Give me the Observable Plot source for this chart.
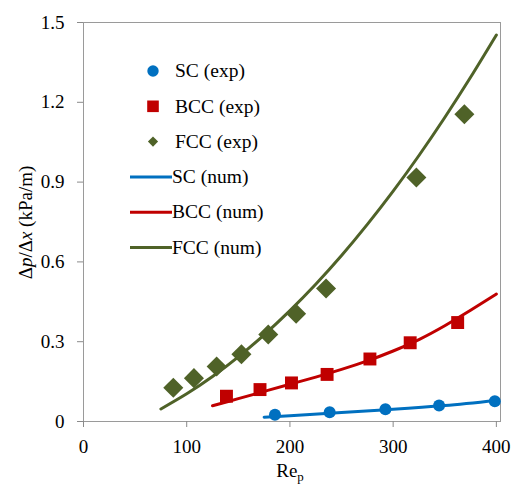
<!DOCTYPE html>
<html>
<head>
<meta charset="utf-8">
<script src="https://cdn.jsdelivr.net/npm/d3@7"></script>
<script src="https://cdn.jsdelivr.net/npm/@observablehq/plot@0.6"></script>
<style>
  html, body { margin: 0; padding: 0; background: #fff; }
  #wrap { position: relative; width: 516px; height: 492px; }
  #chart { position: absolute; left: 0; top: 0; width: 516px; height: 492px; }
  #titles { position: absolute; left: 0; top: 0; pointer-events: none; }
</style>
</head>
<body>
<div id="wrap">
  <div id="chart"></div>
  <!-- axis titles: set at 22px and scaled down to 19px -->
  <svg id="titles" width="516" height="492" font-family="Liberation Serif" font-size="22" fill="#000">
    <text transform="translate(32,222.5) rotate(-90) scale(0.8636)" text-anchor="middle">Δ<tspan font-style="italic">p</tspan>/Δ<tspan font-style="italic">x</tspan> (kPa/m)</text>
    <text transform="translate(290,477) scale(0.8636)" text-anchor="middle">Re<tspan font-size="15" dy="4.6">p</tspan></text>
  </svg>
</div>
<script>
// Particle Reynolds number vs. pressure gradient for SC, BCC and FCC packings

// Experimental points
const scExpRe  = [185.5, 238.5, 292.5, 344.5, 398.5];
const scExpDp  = [0.025, 0.035, 0.046, 0.060, 0.076];
const bccExpRe = [138.5, 171, 201.5, 236, 277.5, 316.5, 362.5];
const bccExpDp = [0.095, 0.120, 0.145, 0.177, 0.235, 0.296, 0.372];
const fccExpRe = [87, 107, 129, 153, 179, 206, 235, 322.5, 369];
const fccExpDp = [0.127, 0.163, 0.207, 0.253, 0.327, 0.405, 0.500, 0.917, 1.155];

// Numerical curves
const scNumRe  = [175, 200, 250, 300, 350, 400];
const scNumDp  = [0.016, 0.022, 0.034, 0.046, 0.060, 0.079];
const bccNumRe = [125, 150, 175, 200, 225, 250, 275, 300, 325, 350, 375, 400];
const bccNumDp = [0.059, 0.086, 0.113, 0.140, 0.167, 0.196, 0.228, 0.265, 0.308, 0.360, 0.418, 0.479];
const fccNumRe = [75, 100, 125, 150, 175, 200, 225, 250, 275, 300, 325, 350, 375, 400];
const fccNumDp = [0.047, 0.104, 0.169, 0.243, 0.326, 0.417, 0.516, 0.624, 0.741, 0.866, 1.000, 1.143, 1.294, 1.453];

// Axis ticks
const xTicks = [0, 100, 200, 300, 400];
const yTicks = [0, 0.3, 0.6, 0.9, 1.2, 1.5];

// Legend
const legendLabels = ["SC (exp)", "BCC (exp)", "FCC (exp)", "SC (num)", "BCC (num)", "FCC (num)"];

const BLUE = "#0070C0", RED = "#C00000", GREEN = "#4F6228";

const pts = (xs, ys) => xs.map((x, i) => ({x, y: ys[i]}));

const scExp = pts(scExpRe, scExpDp);
const bccExp = pts(bccExpRe, bccExpDp);
const fccExp = pts(fccExpRe, fccExpDp);
const scNum = pts(scNumRe, scNumDp);
const bccNum = pts(bccNumRe, bccNumDp);
const fccNum = pts(fccNumRe, fccNumDp);

const font = "Liberation Serif";
const K = 19 / 22; // text is laid out at 22px and scaled to 19px

const chart = Plot.plot({
  width: 516,
  height: 492,
  marginLeft: 83,
  marginRight: 16,
  marginTop: 22,
  marginBottom: 71,
  style: {fontFamily: font, fontSize: "22px", background: "#fff", color: "#000"},
  x: {domain: [0, 404]},
  y: {domain: [0, 1.5]},
  marks: [
    Plot.frame({stroke: "#9a9a9a", strokeWidth: 1}),
    Plot.axisX({ticks: xTicks, tickSize: 6, tickPadding: 12, stroke: "#8a8a8a", fill: "#000", label: null,
      fontFamily: font, tickFormat: d => String(d)}),
    Plot.axisY({ticks: yTicks, tickSize: 6, tickPadding: 13, stroke: "#8a8a8a", fill: "#000", label: null,
      fontFamily: font, tickFormat: d => d === 0 ? "0" : d.toFixed(1)}),
    Plot.line(scNum, {x: "x", y: "y", stroke: BLUE, strokeWidth: 3, curve: "natural"}),
    Plot.line(bccNum, {x: "x", y: "y", stroke: RED, strokeWidth: 3, curve: "natural"}),
    Plot.line(fccNum, {x: "x", y: "y", stroke: GREEN, strokeWidth: 3, curve: "natural"}),
    Plot.dot(scExp, {x: "x", y: "y", r: 6, fill: BLUE, symbol: "circle"}),
    Plot.dot(bccExp, {x: "x", y: "y", r: 7.3, fill: RED, symbol: "square"}),
    Plot.dot(fccExp, {x: "x", y: "y", r: 8, fill: GREEN, symbol: "square", rotate: 45})
  ]
});

document.getElementById("chart").appendChild(chart);

const svg = d3.select(chart);

// Scale the tick labels from 22px down to 19px around their anchor points
svg.selectAll("text").each(function() {
  for (const a of ["x", "y", "dx", "dy"]) {
    const v = this.getAttribute(a);
    if (v !== null && /^-?[\d.]+(px)?$/.test(v.trim())) this.setAttribute(a, parseFloat(v) / K);
  }
  const t = this.getAttribute("transform") || "";
  this.setAttribute("transform", `${t} scale(${K})`);
});

// Legend
const legendColors = [BLUE, RED, GREEN, BLUE, RED, GREEN];
const legendKinds = ["circle", "square", "diamond", "line", "line", "line"];
const KL = 19.5 / 22;
const lg = svg.append("g").attr("font-family", font).attr("font-size", 22).attr("text-anchor", "start");
legendLabels.forEach((label, i) => {
  const cy = 71 + i * 35.3;
  const kind = legendKinds[i];
  const c = legendColors[i];
  if (kind === "line") {
    lg.append("line").attr("x1", 130).attr("x2", 172).attr("y1", cy).attr("y2", cy)
      .attr("stroke", c).attr("stroke-width", 3);
  } else if (kind === "circle") {
    lg.append("circle").attr("cx", 153).attr("cy", cy).attr("r", 5.7).attr("fill", c);
  } else if (kind === "square") {
    lg.append("rect").attr("x", 153 - 5.8).attr("y", cy - 5.8).attr("width", 11.6).attr("height", 11.6).attr("fill", c);
  } else {
    lg.append("rect").attr("x", -3.6).attr("y", -3.6).attr("width", 7.2).attr("height", 7.2).attr("fill", c)
      .attr("transform", `translate(153,${cy}) rotate(45)`);
  }
  lg.append("text")
    .attr("transform", `translate(${kind === "line" ? 172 : 175},${cy}) scale(${KL})`)
    .attr("dy", "0.32em")
    .attr("fill", "#000").text(label);
});
</script>
</body>
</html>
